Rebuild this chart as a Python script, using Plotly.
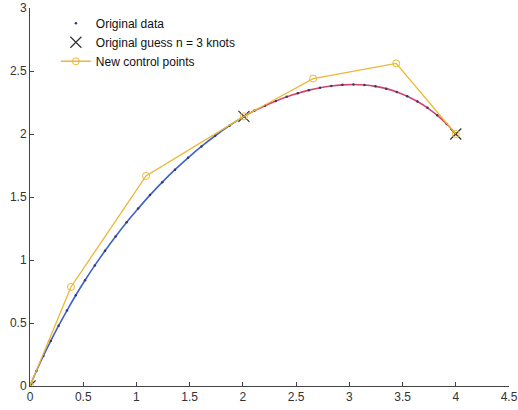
import plotly.graph_objects as go

# Original data, segment 1 (blue) and segment 2 (red)
seg1_x = [0.000, 0.060, 0.125, 0.195, 0.269, 0.347, 0.430, 0.517, 0.609, 0.705, 0.804,
          0.908, 1.016, 1.127, 1.243, 1.362, 1.485, 1.611, 1.740, 1.874, 2.010]
seg1_y = [0.000, 0.119, 0.238, 0.358, 0.479, 0.599, 0.720, 0.839, 0.957, 1.073, 1.187,
          1.300, 1.408, 1.515, 1.618, 1.717, 1.811, 1.901, 1.986, 2.066, 2.140]
seg2_x = [2.010, 2.108, 2.208, 2.310, 2.412, 2.516, 2.620, 2.725, 2.830, 2.935, 3.039,
          3.142, 3.245, 3.346, 3.446, 3.544, 3.640, 3.734, 3.826, 3.915, 4.000]
seg2_y = [2.140, 2.184, 2.224, 2.261, 2.295, 2.323, 2.348, 2.367, 2.381, 2.390, 2.393,
          2.389, 2.378, 2.360, 2.334, 2.300, 2.258, 2.208, 2.148, 2.079, 2.000]

# Original guess knots
knot_x = [0.0, 2.01, 4.0]
knot_y = [0.0, 2.14, 2.0]

# New control points
ctrl_x = [0.0, 0.385, 1.09, 2.01, 2.66, 3.44, 4.0]
ctrl_y = [0.0, 0.786, 1.667, 2.14, 2.44, 2.56, 2.0]

x_ticks = [0, 0.5, 1, 1.5, 2, 2.5, 3, 3.5, 4, 4.5]
x_tick_labels = ["0", "0.5", "1", "1.5", "2", "2.5", "3", "3.5", "4", "4.5"]
y_ticks = [0, 0.5, 1, 1.5, 2, 2.5, 3]
y_tick_labels = ["0", "0.5", "1", "1.5", "2", "2.5", "3"]

fig = go.Figure()

fig.add_trace(go.Scatter(x=seg1_x, y=seg1_y, mode="lines", line=dict(color="#3f62c8", width=1.6, shape="spline"),
                         showlegend=False, hoverinfo="skip"))
fig.add_trace(go.Scatter(x=seg2_x, y=seg2_y, mode="lines", line=dict(color="#d2446c", width=1.6, shape="spline"),
                         showlegend=False, hoverinfo="skip"))
fig.add_trace(go.Scatter(x=seg1_x + seg2_x, y=seg1_y + seg2_y, mode="markers",
                         marker=dict(color="#3a3a6a", size=2.5), name="Original data"))
fig.add_trace(go.Scatter(x=knot_x, y=knot_y, mode="markers",
                         marker=dict(symbol="x-thin-open", size=11, color="#333333", line=dict(width=1.2, color="#333333")),
                         name="Original guess n = 3 knots"))
fig.add_trace(go.Scatter(x=ctrl_x, y=ctrl_y, mode="lines+markers",
                         line=dict(color="#ecb731", width=1.3),
                         marker=dict(symbol="circle-open", size=7, color="#ecb731", line=dict(width=1)),
                         name="New control points"))

fig.update_layout(
    width=518, height=410,
    margin=dict(l=30, r=9, t=8, b=24, autoexpand=False),
    paper_bgcolor="white", plot_bgcolor="white",
    font=dict(family="Liberation Sans, Arial, sans-serif", size=12, color="#222222"),
    legend=dict(x=0.054, y=0.998, xanchor="left", yanchor="top", bgcolor="rgba(0,0,0,0)",
                font=dict(size=12, color="#111111"), tracegroupgap=0, itemwidth=30),
    xaxis=dict(range=[0, 4.5], tickvals=x_ticks, ticktext=x_tick_labels, showgrid=False, zeroline=False,
               showline=True, linecolor="#444444", linewidth=1, ticks="inside", ticklen=4, automargin=False,
               tickcolor="#444444", tickfont=dict(size=12, color="#333333")),
    yaxis=dict(range=[0, 3], tickvals=y_ticks, ticktext=y_tick_labels, showgrid=False, zeroline=False,
               showline=True, linecolor="#444444", linewidth=1, ticks="inside", ticklen=4, automargin=False,
               tickcolor="#444444", tickfont=dict(size=12, color="#333333")),
)

fig.write_html("out.html")
